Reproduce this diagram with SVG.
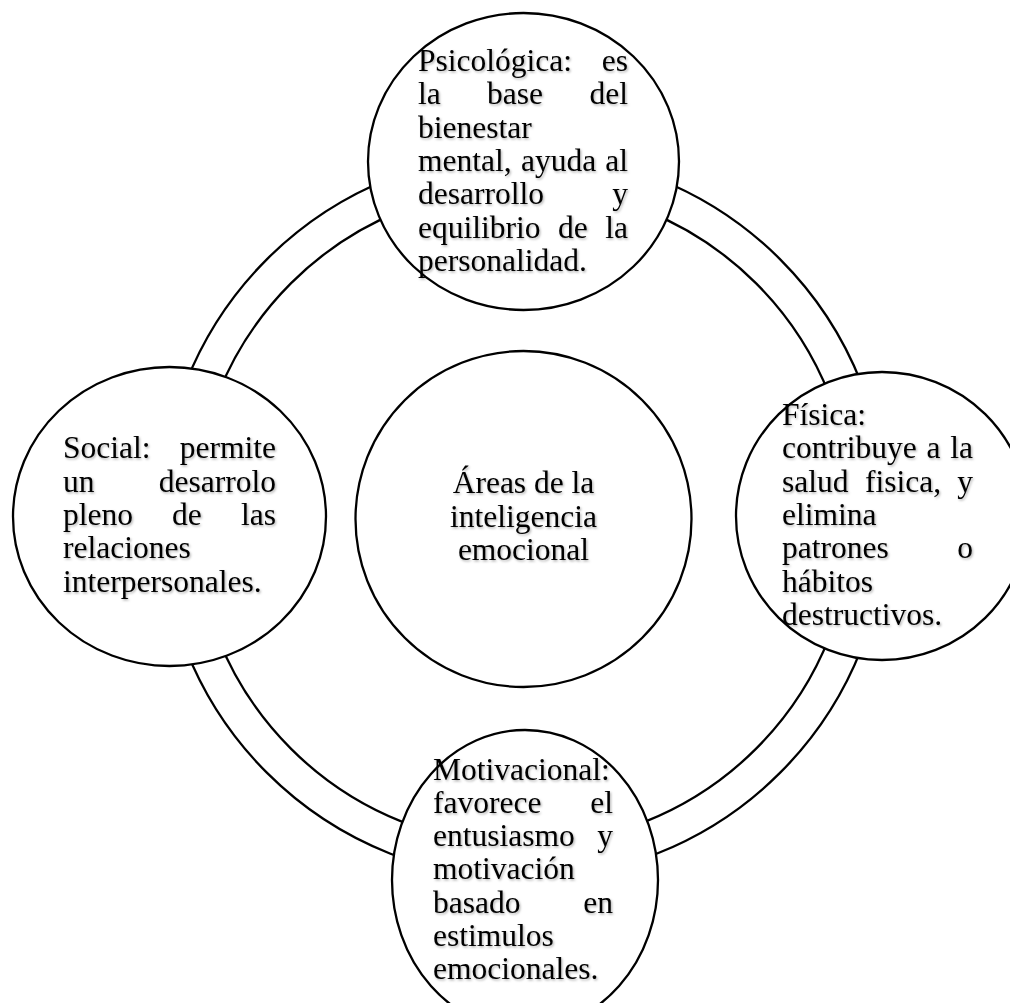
<svg xmlns="http://www.w3.org/2000/svg" width="1010" height="1003" viewBox="0 0 1010 1003">
<defs>
<filter id="sh" x="-10%" y="-10%" width="120%" height="130%">
<feDropShadow dx="1.2" dy="1.5" stdDeviation="1" flood-color="#000" flood-opacity="0.3"/>
</filter>
<style>
.shape{fill:#fff;stroke:#000;stroke-width:2.3}
.ring{fill:none;stroke:#000;stroke-width:2.3}
text{font-family:"Liberation Serif","Times New Roman",serif;font-size:31.5px;fill:#000}
.t{filter:url(#sh)}
.e{text-anchor:end}
.c{text-anchor:middle}
</style>
</defs>
<rect width="1010" height="1003" fill="#fff"/>
<g id="connectors">
<circle class="ring" cx="523.5" cy="516" r="363"/>
<circle class="ring" cx="523.5" cy="516" r="329"/>
</g>
<g id="node-center">
<circle class="shape" cx="523.5" cy="519" r="168"/>
<g class="t">
<text class="c" x="523.5" y="493">Áreas de la</text>
<text class="c" x="523.5" y="526.5">inteligencia</text>
<text class="c" x="523.5" y="559.5">emocional</text>
</g>
</g>
<g id="node-psicologica">
<ellipse class="shape" cx="523.5" cy="161.5" rx="155.5" ry="148.5"/>
<g class="t">
<text x="418" y="71">Psicológica:</text><text class="e" x="628" y="71">es</text>
<text x="418" y="104.3">la</text><text x="487" y="104.3">base</text><text class="e" x="628" y="104.3">del</text>
<text x="418" y="137.6">bienestar</text>
<text x="418" y="170.9">mental,</text><text x="521" y="170.9">ayuda</text><text class="e" x="628" y="170.9">al</text>
<text x="418" y="204.2">desarrollo</text><text class="e" x="628" y="204.2">y</text>
<text x="418" y="237.5">equilibrio</text><text x="558" y="237.5">de</text><text class="e" x="628" y="237.5">la</text>
<text x="418" y="270.8">personalidad.</text>
</g>
</g>
<g id="node-social">
<ellipse class="shape" cx="169.5" cy="516.5" rx="156.5" ry="149.5"/>
<g class="t">
<text x="63" y="458.3">Social:</text><text class="e" x="276" y="458.3">permite</text>
<text x="63" y="491.6">un</text><text class="e" x="276" y="491.6">desarrolo</text>
<text x="63" y="524.9">pleno</text><text x="172" y="524.9">de</text><text class="e" x="276" y="524.9">las</text>
<text x="63" y="558.2">relaciones</text>
<text x="63" y="591.5">interpersonales.</text>
</g>
</g>
<g id="node-fisica">
<ellipse class="shape" cx="882" cy="516" rx="146" ry="144"/>
<g class="t">
<text x="782" y="425">Física:</text>
<text x="782" y="458.3">contribuye</text><text x="926.5" y="458.3">a</text><text class="e" x="973" y="458.3">la</text>
<text x="782" y="491.6">salud</text><text x="865" y="491.6">fisica,</text><text class="e" x="973" y="491.6">y</text>
<text x="782" y="524.9">elimina</text>
<text x="782" y="558.2">patrones</text><text class="e" x="973" y="558.2">o</text>
<text x="782" y="591.5">hábitos</text>
<text x="782" y="624.8">destructivos.</text>
</g>
</g>
<g id="node-motivacional">
<ellipse class="shape" cx="525" cy="880" rx="133" ry="150"/>
<g class="t">
<text x="433" y="779.5">Motivacional:</text>
<text x="433" y="812.8">favorece</text><text class="e" x="613" y="812.8">el</text>
<text x="433" y="846.1">entusiasmo</text><text class="e" x="613" y="846.1">y</text>
<text x="433" y="879.4">motivación</text>
<text x="433" y="912.7">basado</text><text class="e" x="613" y="912.7">en</text>
<text x="433" y="946">estimulos</text>
<text x="433" y="979.3">emocionales.</text>
</g>
</g>
</svg>
